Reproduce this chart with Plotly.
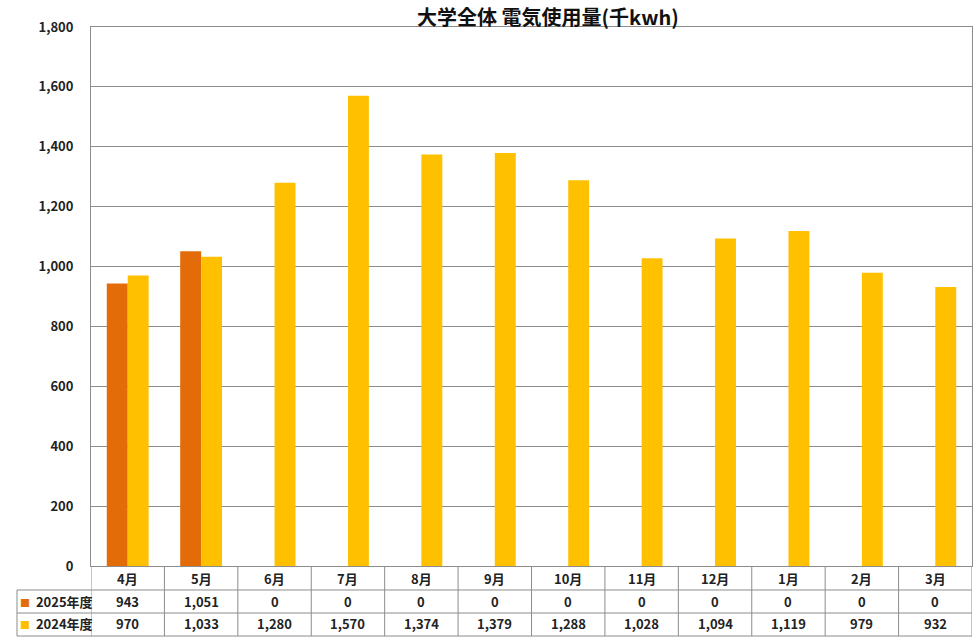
import plotly.graph_objects as go

months = ['4月', '5月', '6月', '7月', '8月', '9月', '10月', '11月', '12月', '1月', '2月', '3月']
series_names = ['2025年度', '2024年度']
usage_2025 = [943, 1051, 0, 0, 0, 0, 0, 0, 0, 0, 0, 0]
usage_2024 = [970, 1033, 1280, 1570, 1374, 1379, 1288, 1028, 1094, 1119, 979, 932]
y_ticks = [0, 200, 400, 600, 800, 1000, 1200, 1400, 1600, 1800]

colors = ['#E36C09', '#FFC000']
grid_color = '#8C8C8C'
font_family = 'Noto Sans CJK JP'

fig = go.Figure()
for name, values, color in zip(series_names, [usage_2025, usage_2024], colors):
    fig.add_trace(go.Bar(name=name, x=months, y=values, marker_color=color,
                         marker_line_width=0))

fig.update_layout(
    width=977,
    height=638,
    paper_bgcolor='white',
    plot_bgcolor='white',
    showlegend=False,
    barmode='group',
    bargap=0.43,
    bargroupgap=0,
    font=dict(family=font_family, size=12, color='#222222'),
    margin=dict(l=91, r=5, t=27, b=72),
    xaxis=dict(
        range=[-0.5, 11.5],
        showticklabels=False,
        showgrid=False,
        showline=True,
        linecolor=grid_color,
        mirror=True,
        ticks='',
    ),
    yaxis=dict(
        range=[0, 1800],
        tickvals=y_ticks,
        tickformat=',',
        showgrid=True,
        gridcolor=grid_color,
        gridwidth=1,
        showline=True,
        linecolor=grid_color,
        mirror=True,
        zeroline=False,
        ticks='',
        ticklabelstandoff=14,
        tickfont=dict(size=13, color='#222222', weight='bold'),
    ),
)

# title
fig.add_annotation(text='大学全体 電気使用量(千kwh)', xref='paper', yref='paper',
                   x=0.519, y=1.0, yshift=11, showarrow=False,
                   xanchor='center', yanchor='middle',
                   font=dict(size=20, color='#111111', weight='bold'))

# data table under the axis (rows ~23px high)
row_month, row_a, row_b, row_end = -0.0223, -0.065, -0.1076, -0.1299
row_lines = [-0.0445, -0.0872, row_end]
left_x = -0.084

for y in row_lines:
    fig.add_shape(type='line', xref='paper', yref='paper', x0=left_x, x1=1, y0=y, y1=y,
                  line=dict(color=grid_color, width=1))
fig.add_shape(type='line', xref='paper', yref='paper', x0=left_x, x1=left_x,
              y0=row_lines[0], y1=row_end, line=dict(color=grid_color, width=1))
for i in range(len(months) + 1):
    fig.add_shape(type='line', xref='x', yref='paper', x0=i - 0.5, x1=i - 0.5,
                  y0=0, y1=row_end, line=dict(color=grid_color, width=1))

cell_font = dict(size=13, color='#222222', weight='bold')
for m, a, b in zip(months, usage_2025, usage_2024):
    for text, y in [(m, row_month), (f'{a:,}', row_a), (f'{b:,}', row_b)]:
        fig.add_annotation(text=text, x=m, xref='x', yref='paper', y=y,
                           xanchor='center', yanchor='middle',
                           showarrow=False, font=cell_font)

for name, color, y in zip(series_names, colors, [row_a, row_b]):
    fig.add_annotation(text=f"<span style='color:{color};font-size:10px'>■</span>  {name}",
                       xref='paper', yref='paper', x=left_x, xshift=1, y=y,
                       xanchor='left', yanchor='middle', showarrow=False, font=cell_font)

fig.write_html('out.html', config={'displayModeBar': False},
               post_script="document.body.style.margin = '0';")
